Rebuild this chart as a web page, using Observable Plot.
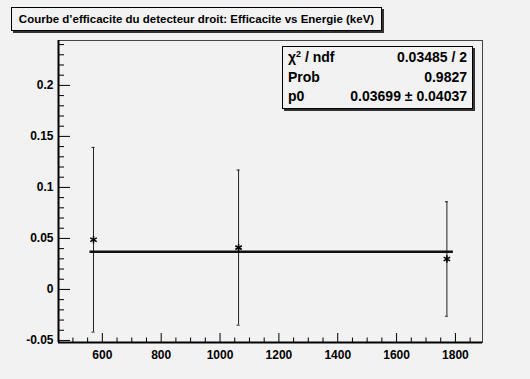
<!DOCTYPE html>
<html>
<head>
<meta charset="utf-8">
<script src="https://cdn.jsdelivr.net/npm/d3@7"></script>
<script src="https://cdn.jsdelivr.net/npm/@observablehq/plot@0.6"></script>
<style>
  html, body { margin: 0; padding: 0; background: #f2f2f2; }
  #wrap { position: relative; width: 530px; height: 379px; background: #f2f2f2; overflow: hidden;
          font-family: "Liberation Sans", Arial, Helvetica, sans-serif; font-weight: bold; color: #000; }
  #title { position: absolute; left: 11px; top: 7px; width: 369px; height: 22px; background: #f2f2f2;
           border: 1px solid #000; box-shadow: 2px 2px 0 #333; font-size: 11.5px; line-height: 22px;
           text-align: center; white-space: nowrap; }
  #stats { position: absolute; left: 282px; top: 46px; width: 189px; height: 61px; background: #f2f2f2;
           border: 1px solid #000; box-shadow: 2px 2px 0 #333; font-size: 14px; }
  .row { position: absolute; left: 5px; right: 5px; height: 19px; line-height: 19px; white-space: nowrap; }
  .row .k { position: absolute; left: 0; top: 0; }
  .row .v { position: absolute; right: 0; top: 0; }
  .sup { font-size: 9px; position: relative; top: -5px; line-height: 0; }
  svg { position: absolute; left: 0; top: 0; }
</style>
</head>
<body>
<div id="wrap"></div>
<script>
// ---- data ----
const energies = [570, 1063, 1771];          // keV
const efficiency = [0.0487, 0.0410, 0.0298];
const errors = [0.0905, 0.0760, 0.0561];
const fitP0 = 0.03699;
const fitRange = [558, 1793];
const xDomain = [451, 1892];
const yDomain = [-0.052, 0.244];
const xMajor = [600, 800, 1000, 1200, 1400, 1600, 1800];
const xMinor = [500, 550, 650, 700, 750, 850, 900, 950, 1050, 1100, 1150, 1250, 1300, 1350, 1450, 1500, 1550, 1650, 1700, 1750, 1850];
const yMajor = [-0.05, 0, 0.05, 0.1, 0.15, 0.2];
const yMinor = [-0.04, -0.03, -0.02, -0.01, 0.01, 0.02, 0.03, 0.04, 0.06, 0.07, 0.08, 0.09,
                0.11, 0.12, 0.13, 0.14, 0.16, 0.17, 0.18, 0.19, 0.21, 0.22, 0.23, 0.24];
const titleText = "Courbe d\u2019efficacite du detecteur droit: Efficacite vs Energie (keV)";
const statsKeys = ["\u03c7<span class='sup'>2</span> / ndf", "Prob", "p0"];
const statsVals = ["0.03485 / 2", "0.9827", "0.03699 \u00b1 0.04037"];

const points = energies.map((e, i) => ({e, v: efficiency[i], lo: efficiency[i] - errors[i], hi: efficiency[i] + errors[i]}));

// layout
const W = 530, H = 379, mL = 58, mR = 48, mT = 40, mB = 37;
const pxX = (xDomain[1] - xDomain[0]) / (W - mL - mR); // data units per px
const pxY = (yDomain[1] - yDomain[0]) / (H - mT - mB);
const x0 = xDomain[0], y0 = yDomain[0];

const plot = Plot.plot({
  width: W, height: H,
  marginLeft: mL, marginRight: mR, marginTop: mT, marginBottom: mB,
  style: {background: "#f2f2f2", fontFamily: "'Liberation Sans', Arial, sans-serif", fontSize: "12px", fontWeight: "bold", color: "#000"},
  x: {domain: xDomain, label: null},
  y: {domain: yDomain, label: null},
  marks: [
    Plot.frame({stroke: "#444", strokeWidth: 1}),
    // inward ticks
    Plot.ruleY(yMajor, {y: d => d, x1: x0, x2: x0 + 12 * pxX, stroke: "#000"}),
    Plot.ruleY(yMinor, {y: d => d, x1: x0, x2: x0 + 6 * pxX, stroke: "#000"}),
    Plot.ruleX(xMajor, {x: d => d, y1: y0, y2: y0 + 9 * pxY, stroke: "#000"}),
    Plot.ruleX(xMinor, {x: d => d, y1: y0, y2: y0 + 4.5 * pxY, stroke: "#000"}),
    Plot.ruleX([x0], {stroke: "#000", strokeWidth: 2}),
    Plot.ruleY([y0], {stroke: "#000", strokeWidth: 2}),
    Plot.axisY({ticks: yMajor, tickSize: 0, tickPadding: 5, tickFormat: d => String(d), label: null, fontWeight: "bold", fontSize: 12}),
    Plot.axisX({ticks: xMajor, tickSize: 0, tickPadding: 8, tickFormat: d => String(d), label: null, fontWeight: "bold", fontSize: 12}),
    // error bars
    Plot.ruleX(points, {x: "e", y1: "lo", y2: "hi", stroke: "#222", strokeWidth: 1}),
    Plot.ruleY(points, {y: "hi", x1: d => d.e - 1.5 * pxX, x2: d => d.e + 1.5 * pxX, stroke: "#222"}),
    Plot.ruleY(points, {y: "lo", x1: d => d.e - 1.5 * pxX, x2: d => d.e + 1.5 * pxX, stroke: "#222"}),
    // fit
    Plot.ruleY([fitP0], {x1: fitRange[0], x2: fitRange[1], stroke: "#111", strokeWidth: 2.5}),
    // markers
    Plot.dot(points, {x: "e", y: "v", symbol: "asterisk", r: 3.5, stroke: "#000", strokeWidth: 1.5})
  ]
});

const wrap = document.getElementById("wrap");
wrap.appendChild(plot);
const t = document.createElement("div");
t.id = "title"; t.textContent = titleText;
wrap.appendChild(t);
const s = document.createElement("div");
s.id = "stats";
statsKeys.forEach((k, i) => {
  const row = document.createElement("div");
  row.className = "row";
  row.style.top = (1 + i * 19.5) + "px";
  row.innerHTML = `<span class="k">${k}</span><span class="v">${statsVals[i]}</span>`;
  s.appendChild(row);
});
wrap.appendChild(s);
</script>
</body>
</html>
